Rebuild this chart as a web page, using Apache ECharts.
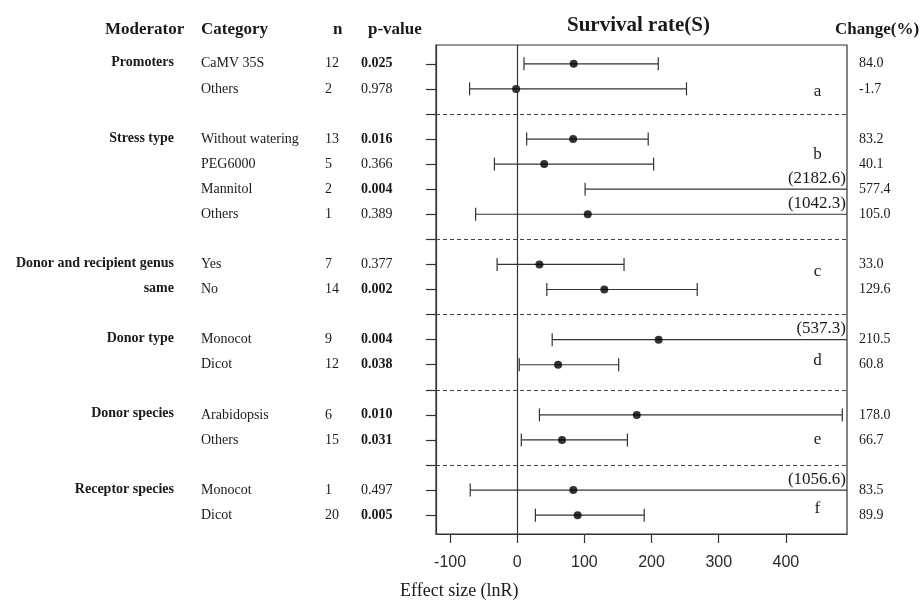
<!DOCTYPE html>
<html>
<head>
<meta charset="utf-8">
<script src="https://cdn.jsdelivr.net/npm/echarts@6/dist/echarts.min.js"></script>
<style>html,body{margin:0;padding:0;background:#fff}#c{width:922px;height:603px}</style>
</head>
<body>
<div id="c"></div>
<script>
// ---- data ----
const rowPos      = [0, 1, 3, 4, 5, 6, 8, 9, 11, 12, 14, 15, 17, 18];
const categories  = ["CaMV 35S","Others","Without watering","PEG6000","Mannitol","Others","Yes","No","Monocot","Dicot","Arabidopsis","Others","Monocot","Dicot"];
const nValues     = [12, 2, 13, 5, 2, 1, 7, 14, 9, 12, 6, 15, 1, 20];
const pValues     = ["0.025","0.978","0.016","0.366","0.004","0.389","0.377","0.002","0.004","0.038","0.010","0.031","0.497","0.005"];
const changes     = [84.0, -1.7, 83.2, 40.1, 577.4, 105.0, 33.0, 129.6, 210.5, 60.8, 178.0, 66.7, 83.5, 89.9];
const lowerCI     = [10, -71, 14, -34, 101, -62, -30, 44, 52, 3, 33, 6, -70, 27];
const upperCI     = [210, 252, 195, 203, 2182.6, 1042.3, 159, 268, 537.3, 151, 484, 164, 1056.6, 189];
const modRows     = [0, 3, 8, 9, 11, 14, 17];
const modLabels   = ["Promoters","Stress type","Donor and recipient genus","same","Donor type","Donor species","Receptor species"];
const sepRows     = [2, 7, 10, 13, 16];
const letters     = ["a","b","c","d","e","f"];
const letterRows  = [1.1, 3.6, 8.3, 11.85, 15.0, 17.75];
const letterX     = [447, 447, 447, 447, 447, 447];
const xTicks      = [-100, 0, 100, 200, 300, 400];
const rowTicks    = [0,1,2,3,4,5,6,7,8,9,10,11,12,13,14,15,16,17,18];

const XMIN = -121, XMAX = 491;
const SERIF = '"Liberation Serif", "Times New Roman", serif';
const TXT = '#1a1a1a';
const LINE = '#333';

const chart = echarts.init(document.getElementById('c'), null, {renderer: 'canvas'});

const tableData = rowPos.map((r, i) => [XMIN, r, i]);
const modData = modRows.map((r, i) => [XMIN, r, i]);
const letterData = letters.map((l, i) => [letterX[i], letterRows[i], i]);
const barData = rowPos.map((r, i) => [lowerCI[i], upperCI[i], r]);
const pointData = rowPos.map((r, i) => [changes[i], r]);

const option = {
  animation: false,
  backgroundColor: '#fff',
  grid: {left: 436, right: 75, top: 45, bottom: 69, show: true, borderColor: LINE, borderWidth: 1.2, backgroundColor: 'transparent'},
  title: {
    text: 'Survival rate(S)', left: 562, top: 10,
    textStyle: {fontFamily: SERIF, fontWeight: 'bold', fontSize: 21, color: TXT}
  },
  xAxis: {
    type: 'value', min: XMIN, max: XMAX,
    axisLine: {show: true, onZero: false, lineStyle: {color: LINE, width: 1.2}},
    axisTick: {show: true, customValues: xTicks, length: 9, lineStyle: {color: LINE, width: 1.2}},
    axisLabel: {show: true, customValues: xTicks, margin: 21, fontFamily: '"Liberation Sans", Arial, sans-serif', fontSize: 16, color: '#2a2a2a'},
    splitLine: {show: false}
  },
  yAxis: {
    type: 'value', min: -0.75, max: 18.75, inverse: true,
    axisLine: {show: true, onZero: false, lineStyle: {color: LINE, width: 1.2}},
    axisTick: {show: true, customValues: rowTicks, length: 10, lineStyle: {color: LINE, width: 1.2}},
    axisLabel: {show: false},
    splitLine: {show: false}
  },
  graphic: [
    {type: 'text', left: 105, top: 21, style: {text: 'Moderator', font: 'bold 17px ' + SERIF, fill: TXT}},
    {type: 'text', left: 201, top: 21, style: {text: 'Category', font: 'bold 17px ' + SERIF, fill: TXT}},
    {type: 'text', left: 333, top: 21, style: {text: 'n', font: 'bold 17px ' + SERIF, fill: TXT}},
    {type: 'text', left: 368, top: 21, style: {text: 'p-value', font: 'bold 17px ' + SERIF, fill: TXT}},
    {type: 'text', left: 835, top: 21, style: {text: 'Change(%)', font: 'bold 17px ' + SERIF, fill: TXT}},
    {type: 'text', left: 400, top: 582, style: {text: 'Effect size (lnR)', font: '18px ' + SERIF, fill: TXT}}
  ],
  series: [
    {
      type: 'scatter', data: [], silent: true,
      markLine: {
        silent: true, symbol: 'none', animation: false,
        label: {show: false},
        data: [{xAxis: 0, lineStyle: {type: 'solid', color: LINE, width: 1.2}}]
          .concat(sepRows.map(r => ({yAxis: r, lineStyle: {type: [4, 3], color: '#444', width: 1.1}})))
      }
    },
    {
      type: 'custom', data: barData, clip: false, silent: true,
      renderItem(params, api) {
        const lo = api.value(0), hi = api.value(1), r = api.value(2);
        const hiC = Math.min(hi, XMAX);
        const p1 = api.coord([lo, r]);
        const p2 = api.coord([hiC, r]);
        const st = {stroke: LINE, lineWidth: 1.2};
        const ch = [
          {type: 'line', shape: {x1: p1[0], y1: p1[1], x2: p2[0], y2: p2[1]}, style: st},
          {type: 'line', shape: {x1: p1[0], y1: p1[1] - 6.5, x2: p1[0], y2: p1[1] + 6.5}, style: st}
        ];
        if (hi <= XMAX) {
          ch.push({type: 'line', shape: {x1: p2[0], y1: p2[1] - 6.5, x2: p2[0], y2: p2[1] + 6.5}, style: st});
        } else {
          ch.push({type: 'text', x: p2[0] - 1, y: p2[1] - 11, style: {text: '(' + hi.toFixed(1) + ')', font: '17px ' + SERIF, fill: TXT, align: 'right', verticalAlign: 'middle'}});
        }
        return {type: 'group', children: ch};
      }
    },
    {
      type: 'scatter', data: pointData, clip: true, silent: true,
      symbol: 'circle', symbolSize: 8, itemStyle: {color: '#000'}
    },
    {
      type: 'custom', data: letterData, clip: false, silent: true,
      renderItem(params, api) {
        const i = api.value(2);
        const p = api.coord([api.value(0), api.value(1)]);
        return {type: 'text', x: p[0], y: p[1], style: {text: letters[i], font: '17px ' + SERIF, fill: TXT, align: 'center', verticalAlign: 'middle'}};
      }
    },
    {
      type: 'custom', data: tableData, clip: false, silent: true,
      renderItem(params, api) {
        const i = api.value(2);
        const y = api.coord([XMIN, api.value(1)])[1];
        const bold = parseFloat(pValues[i]) < 0.05;
        const f = '14px ' + SERIF;
        return {type: 'group', children: [
          {type: 'text', x: 201, y: y, style: {text: categories[i], font: f, fill: TXT, verticalAlign: 'middle'}},
          {type: 'text', x: 325, y: y, style: {text: String(nValues[i]), font: f, fill: TXT, verticalAlign: 'middle'}},
          {type: 'text', x: 361, y: y, style: {text: pValues[i], font: (bold ? 'bold ' : '') + f, fill: TXT, verticalAlign: 'middle'}},
          {type: 'text', x: 859, y: y, style: {text: changes[i].toFixed(1), font: f, fill: TXT, verticalAlign: 'middle'}}
        ]};
      }
    },
    {
      type: 'custom', data: modData, clip: false, silent: true,
      renderItem(params, api) {
        const i = api.value(2);
        const y = api.coord([XMIN, api.value(1)])[1];
        return {type: 'text', x: 174, y: y - 1, style: {text: modLabels[i], font: 'bold 14px ' + SERIF, fill: TXT, align: 'right', verticalAlign: 'middle'}};
      }
    }
  ]
};
chart.setOption(option);
</script>
</body>
</html>
